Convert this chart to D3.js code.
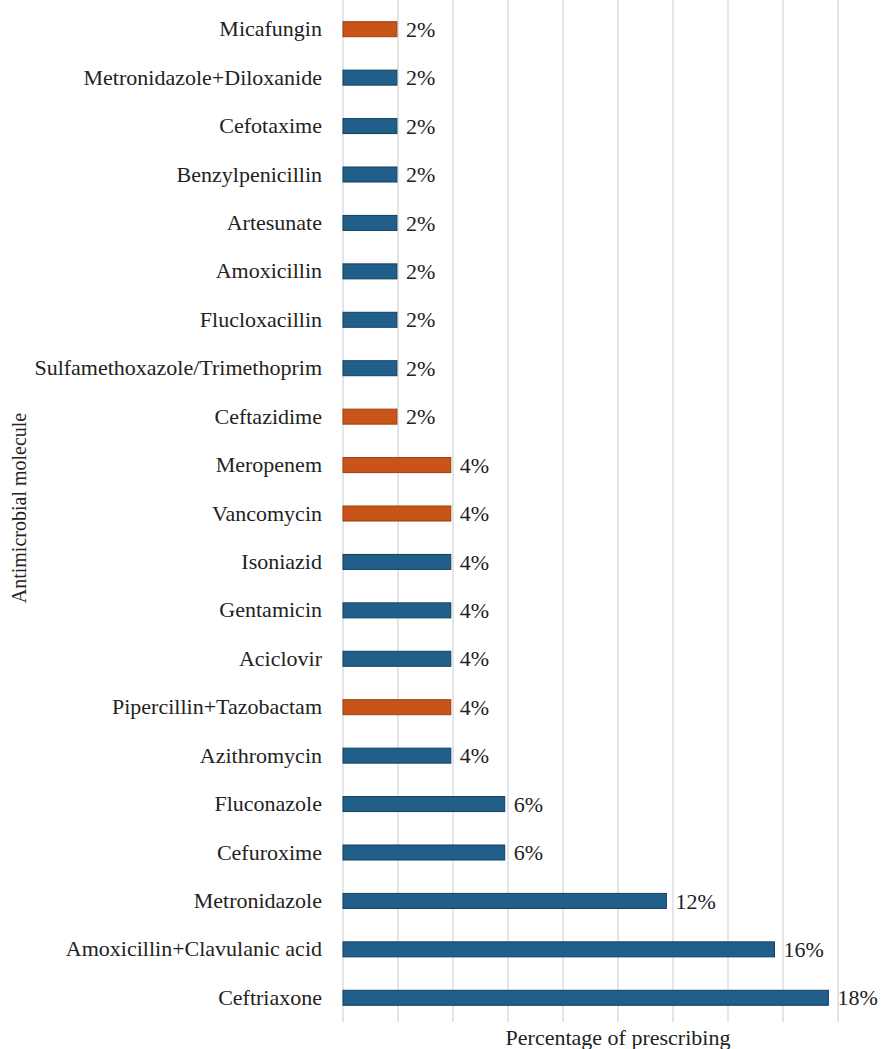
<!DOCTYPE html>
<html>
<head>
<meta charset="utf-8">
<script src="https://cdn.jsdelivr.net/npm/d3@7"></script>
<style>
  html, body { margin: 0; padding: 0; background: #fff; }
  svg text { font-family: "Liberation Serif", "Times New Roman", serif; fill: #222; }
</style>
</head>
<body>
<svg id="chart" width="883" height="1049"></svg>
<script>
// Categories from top to bottom
const categories = [
  "Micafungin", "Metronidazole+Diloxanide", "Cefotaxime", "Benzylpenicillin",
  "Artesunate", "Amoxicillin", "Flucloxacillin", "Sulfamethoxazole/Trimethoprim",
  "Ceftazidime", "Meropenem", "Vancomycin", "Isoniazid", "Gentamicin", "Aciclovir",
  "Pipercillin+Tazobactam", "Azithromycin", "Fluconazole", "Cefuroxime",
  "Metronidazole", "Amoxicillin+Clavulanic acid", "Ceftriaxone"
];
// Percentage of prescribing
const values = [
  1.96, 1.96, 1.96, 1.96, 1.96, 1.96, 1.96, 1.96, 1.96,
  3.92, 3.92, 3.92, 3.92, 3.92, 3.92, 3.92,
  5.88, 5.88, 11.76, 15.69, 17.65
];
// Group: "o" = highlighted (orange), "b" = blue
const groups = [
  "o", "b", "b", "b", "b", "b", "b", "b", "o",
  "o", "o", "b", "b", "b", "o", "b",
  "b", "b", "b", "b", "b"
];
const gridTicks = [0, 2, 4, 6, 8, 10, 12, 14, 16, 18];
const xTitle = "Percentage of prescribing";
const yTitle = "Antimicrobial molecule";

const svg = d3.select("#chart");
const x = d3.scaleLinear().domain([0, 20]).range([343, 893]);
const y = d3.scaleBand().domain(categories).range([5, 1022]).paddingInner(0.69).paddingOuter(0.345);

const fill = { o: "#c8541a", b: "#1f5f8a" };
const stroke = { o: "#9c3f10", b: "#123f5e" };

// gridlines
svg.append("g").selectAll("line").data(gridTicks).join("line")
  .attr("x1", d => x(d)).attr("x2", d => x(d))
  .attr("y1", 0).attr("y2", 1022)
  .attr("stroke", "#d4d4d4").attr("stroke-width", 1.2);

// bars
const data = categories.map((c, i) => ({ c, v: values[i], g: groups[i] }));
svg.append("g").selectAll("rect").data(data).join("rect")
  .attr("x", x(0))
  .attr("y", d => y(d.c))
  .attr("width", d => x(d.v) - x(0))
  .attr("height", y.bandwidth())
  .attr("fill", d => fill[d.g])
  .attr("stroke", d => stroke[d.g])
  .attr("stroke-width", 1);

// value labels
svg.append("g").selectAll("text").data(data).join("text")
  .attr("x", d => x(d.v) + 9)
  .attr("y", d => y(d.c) + y.bandwidth() / 2)
  .attr("dy", "0.35em")
  .attr("font-size", 22)
  .text(d => Math.round(d.v) + "%");

// category labels (y axis)
const yAxis = d3.axisLeft(y).tickSize(0).tickPadding(0);
const gy = svg.append("g").attr("transform", "translate(322,0)").call(yAxis);
gy.select(".domain").remove();
gy.selectAll("text")
  .attr("font-size", 22)
  .attr("fill", "#222")
  .style("font-family", "'Liberation Serif', 'Times New Roman', serif");

// axis titles
svg.append("text")
  .attr("x", 618).attr("y", 1045)
  .attr("text-anchor", "middle")
  .attr("font-size", 22)
  .text(xTitle);

svg.append("text")
  .attr("transform", "translate(26,508) rotate(-90)")
  .attr("text-anchor", "middle")
  .attr("font-size", 20)
  .text(yTitle);
</script>
</body>
</html>
